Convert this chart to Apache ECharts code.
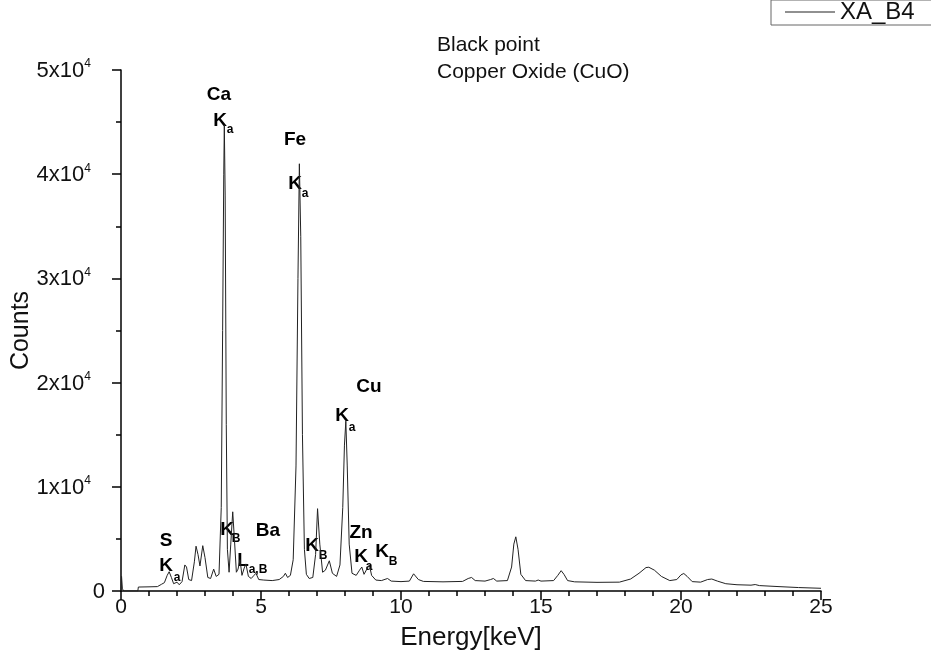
<!DOCTYPE html>
<html lang="en">
<head>
    <meta charset="UTF-8">
    <title>XA_B4 spectrum</title>
    <script src="https://cdn.jsdelivr.net/npm/echarts@6/dist/echarts.min.js"></script>
    <style>
        html, body { margin: 0; padding: 0; background: #fff; }
    </style>
</head>
<body>
<div id="main" style="width: 931px;height:661px;"></div>
<script type="text/javascript">
    // energy (keV) and counts
    var energy = [
        0.00, 0.02, 0.05, 0.10, 0.60, 0.62, 1.00, 1.30, 1.45, 1.55, 1.65, 1.72, 1.80, 1.88, 1.95, 2.00, 2.08, 2.18, 2.28, 2.34,
        2.42, 2.52, 2.62, 2.68, 2.75, 2.82, 2.92, 3.00, 3.10, 3.20, 3.31, 3.40, 3.50, 3.58, 3.63, 3.67, 3.69, 3.72, 3.76, 3.80,
        3.86, 3.92, 3.99, 4.05, 4.12, 4.18, 4.25, 4.32, 4.40, 4.46, 4.55, 4.65, 4.75, 4.82, 4.92, 5.10, 5.40, 5.65, 5.80, 5.87,
        5.95, 6.05, 6.15, 6.25, 6.32, 6.37, 6.42, 6.48, 6.55, 6.62, 6.72, 6.85, 6.95, 7.02, 7.10, 7.20, 7.30, 7.44, 7.55, 7.70,
        7.82, 7.92, 7.98, 8.03, 8.08, 8.15, 8.25, 8.40, 8.52, 8.60, 8.68, 8.80, 8.87, 8.95, 9.10, 9.30, 9.52, 9.65, 10.00, 10.30,
        10.45, 10.52, 10.62, 10.80, 11.50, 12.20, 12.40, 12.52, 12.65, 13.00, 13.20, 13.30, 13.42, 13.80, 13.95, 14.03, 14.10, 14.18, 14.28, 14.45,
        14.80, 14.90, 15.00, 15.45, 15.60, 15.72, 15.82, 15.95, 16.20, 17.00, 17.80, 18.20, 18.50, 18.75, 18.85, 19.05, 19.30, 19.60, 19.85, 20.00,
        20.10, 20.22, 20.40, 20.70, 20.95, 21.10, 21.30, 21.60, 22.00, 22.50, 22.65, 22.80, 23.50, 24.20, 25.00
    ];
    var counts = [
        0, 1400, 200, 0, 0, 380, 400, 420, 650, 800, 1500, 1850, 1300, 700, 750, 850, 600, 900, 2500, 2300,
        1100, 1000, 2800, 4300, 3500, 2400, 4350, 3200, 1300, 1200, 2100, 1400, 1600, 8000, 25000, 40000, 44700, 38000, 16000, 4000,
        1800, 4500, 7600, 5000, 1800, 2100, 3000, 1500, 2200, 2600, 1400, 1200, 1500, 1700, 1100, 1050, 1000, 1100, 1400, 1700,
        1300, 1500, 3000, 12000, 30000, 41000, 34000, 15000, 4000, 1600, 1200, 1300, 3500, 7900, 4500, 1800, 2000, 2900, 1700, 1400,
        2500, 8000, 14000, 16300, 12000, 4500, 1700, 1500, 2000, 2300, 1600, 2200, 2500, 1500, 1050, 1000, 1200, 950, 900, 950,
        1650, 1700, 1100, 920, 880, 920, 1200, 1300, 1000, 950, 1100, 1200, 950, 1000, 2300, 4500, 5200, 4000, 1600, 1000,
        950, 1050, 950, 1000, 1500, 1950, 1600, 1000, 880, 830, 850, 1150, 1700, 2250, 2280, 2000, 1400, 1000, 1100, 1550,
        1680, 1400, 900, 850, 1100, 1150, 950, 700, 600, 560, 620, 520, 420, 330, 260
    ];
    var xTicks = [0, 5, 10, 15, 20, 25];
    var yTicks = [0, 10000, 20000, 30000, 40000, 50000];

    var seriesData = energy.map(function (e, i) { return [e, counts[i]]; });

    var FONT = 'Liberation Sans, Arial, sans-serif';

    // peak labels (bold element name, K/L line with subscript)
    function txt(x, y, s, size) {
        return {
            type: 'text', x: x, y: y,
            style: {
                text: s, fill: '#000', font: 'bold ' + size + 'px ' + FONT,
                textAlign: 'center', textVerticalAlign: 'middle'
            }
        };
    }
    var marks = [
        txt(219, 95, 'Ca', 19), txt(220, 121, 'K', 19), txt(230, 130, 'a', 12),
        txt(295, 140, 'Fe', 19), txt(295, 184, 'K', 19), txt(305, 194, 'a', 12),
        txt(369, 387, 'Cu', 19), txt(342, 416, 'K', 19), txt(352, 428, 'a', 12),
        txt(166, 541, 'S', 19), txt(166, 566, 'K', 19), txt(177, 578, 'a', 12),
        txt(227, 530, 'K', 19), txt(236, 539, 'B', 12),
        txt(268, 531, 'Ba', 19),
        txt(243, 561, 'L', 19), txt(258, 570, 'a,B', 12),
        txt(312, 546, 'K', 19), txt(323, 556, 'B', 12),
        txt(361, 533, 'Zn', 19), txt(361, 557, 'K', 19), txt(369, 567, 'a', 12),
        txt(382, 552, 'K', 19), txt(393, 562, 'B', 12),
        {
            type: 'text', x: 437, y: 45,
            style: { text: 'Black point', fill: '#111', font: '21px ' + FONT, textVerticalAlign: 'middle' }
        },
        {
            type: 'text', x: 437, y: 72,
            style: { text: 'Copper Oxide (CuO)', fill: '#111', font: '21px ' + FONT, textVerticalAlign: 'middle' }
        }
    ];

    var myChart = echarts.init(document.getElementById('main'));

    var option = {
        animation: false,
        backgroundColor: '#fff',
        textStyle: { fontFamily: FONT },
        grid: { left: 121, right: 110, top: 70, bottom: 70, outerBoundsMode: 'none', containLabel: false },
        legend: {
            left: 771, top: 0,
            padding: [0, 20, 1, 14],
            borderColor: '#666', borderWidth: 1,
            icon: 'rect',
            itemWidth: 50, itemHeight: 1, itemGap: 6,
            textStyle: { fontSize: 24, color: '#111', fontFamily: FONT },
            data: ['XA_B4']
        },
        xAxis: {
            type: 'value', min: xTicks[0], max: xTicks[xTicks.length - 1], interval: 5,
            name: 'Energy[keV]', nameLocation: 'middle', nameGap: 34, nameMoveOverlap: false,
            nameTextStyle: { fontSize: 26, color: '#111', fontFamily: FONT },
            axisLine: { lineStyle: { color: '#000', width: 1.5 } },
            axisTick: { length: 9, lineStyle: { color: '#000', width: 1.5 } },
            minorTick: { show: true, splitNumber: 5, length: 5, lineStyle: { color: '#000', width: 1.5 } },
            splitLine: { show: false },
            axisLabel: { fontSize: 21, color: '#111', margin: 6 }
        },
        yAxis: {
            type: 'value', min: yTicks[0], max: yTicks[yTicks.length - 1], interval: 10000,
            name: 'Counts', nameLocation: 'middle', nameGap: 87, nameMoveOverlap: false,
            nameTextStyle: { fontSize: 25, color: '#111', fontFamily: FONT },
            axisLine: { show: true, lineStyle: { color: '#000', width: 1.5 } },
            axisTick: { show: true, length: 9, lineStyle: { color: '#000', width: 1.5 } },
            minorTick: { show: true, splitNumber: 2, length: 5, lineStyle: { color: '#000', width: 1.5 } },
            splitLine: { show: false },
            axisLabel: {
                margin: 16, color: '#111',
                formatter: function (v) {
                    if (v === 0) return '{n|0}';
                    return '{n|' + (v / 10000) + 'x10}{s|4}{g|}';
                },
                rich: {
                    n: { fontSize: 22, lineHeight: 24, verticalAlign: 'bottom', color: '#111', fontFamily: FONT },
                    s: { fontSize: 12, lineHeight: 12, verticalAlign: 'top', color: '#111', fontFamily: FONT },
                    g: { width: 14, lineHeight: 12 }
                }
            }
        },
        graphic: marks,
        series: [
            {
                name: 'XA_B4',
                type: 'line',
                symbol: 'none',
                lineStyle: { color: '#222', width: 1 },
                itemStyle: { color: '#222' },
                data: seriesData
            }
        ]
    };

    myChart.setOption(option);
</script>
</body>
</html>
